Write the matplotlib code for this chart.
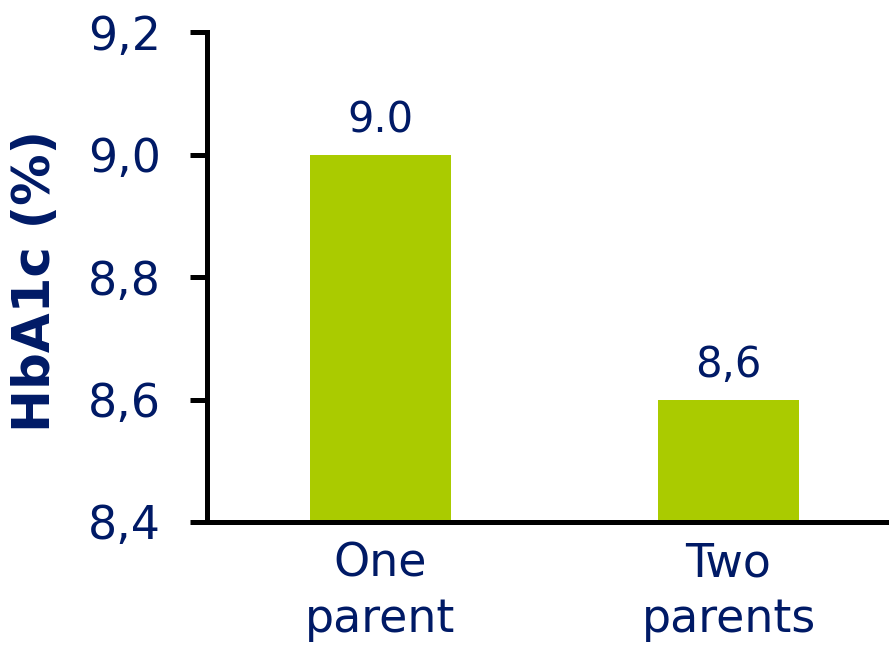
import matplotlib
matplotlib.use("Agg")
import matplotlib.pyplot as plt

# Data
categories = ["One\nparent", "Two\nparents"]
hba1c = [9.0, 8.6]
value_labels = ["9.0", "8,6"]
y_ticks = [8.4, 8.6, 8.8, 9.0, 9.2]
y_tick_labels = ["8,4", "8,6", "8,8", "9,0", "9,2"]

navy = "#001A66"
green = "#AACB00"

plt.rcParams["font.family"] = ["DejaVu Sans"]

fig = plt.figure(figsize=(8.89, 6.47), dpi=100)
ax = fig.add_axes([0.2328, 0.1932, 0.7672, 0.7573])

x = list(range(len(categories)))
ax.bar(x, hba1c, width=0.405, color=green, zorder=2)

for xi, v, lab in zip(x, hba1c, value_labels):
    ax.annotate(lab, (xi, v), xytext=(0, 16), textcoords="offset points",
                ha="center", va="baseline", fontsize=30, color=navy)

ax.set_ylim(8.4, 9.2)
ax.set_xlim(-0.4986, 1.461)
ax.set_yticks(y_ticks)
ax.set_yticklabels(y_tick_labels)
ax.set_xticks(x)
ax.set_xticklabels(categories, linespacing=1.3)

for s in ["top", "right"]:
    ax.spines[s].set_visible(False)
for s in ["left", "bottom"]:
    ax.spines[s].set_linewidth(3.6)
    ax.spines[s].set_color("black")

ax.tick_params(axis="y", direction="out", length=12.2, width=3.6,
               pad=21, labelsize=33, labelcolor=navy, color="black")
ax.tick_params(axis="x", length=0, pad=14, labelsize=33, labelcolor=navy)

# Y-axis title placed in figure coordinates
fig.text(36 / 889, 1 - 281 / 647, "HbA1c (%)", rotation=90, ha="center",
         va="center", fontsize=37, fontweight="bold", color=navy)

fig.savefig("out.png", dpi=100, facecolor="white")
